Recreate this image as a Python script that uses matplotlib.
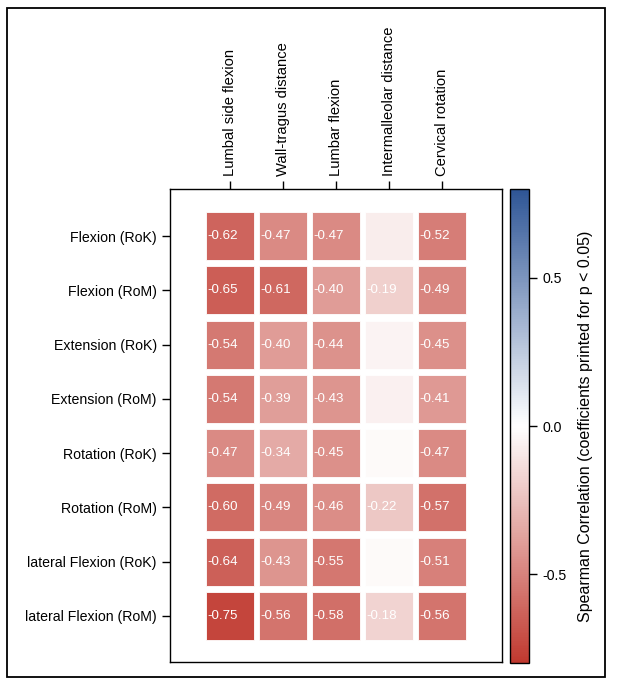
import numpy as np
import matplotlib
matplotlib.use('Agg')
import matplotlib.pyplot as plt
from matplotlib.colors import LinearSegmentedColormap, Normalize
from matplotlib.patches import Rectangle
from matplotlib.cm import ScalarMappable

plt.rcParams['font.family'] = ['Liberation Sans', 'DejaVu Sans']

# measures (columns) and tests (rows)
columns = ['Lumbal side flexion', 'Wall-tragus distance', 'Lumbar flexion',
           'Intermalleolar distance', 'Cervical rotation']
rows = ['Flexion (RoK)', 'Flexion (RoM)', 'Extension (RoK)', 'Extension (RoM)',
        'Rotation (RoK)', 'Rotation (RoM)', 'lateral Flexion (RoK)', 'lateral Flexion (RoM)']

# Spearman coefficients, row by row
values = [
    [-0.62, -0.47, -0.47, -0.07, -0.52],
    [-0.65, -0.61, -0.40, -0.19, -0.49],
    [-0.54, -0.40, -0.44, -0.05, -0.45],
    [-0.54, -0.39, -0.43, -0.06, -0.41],
    [-0.47, -0.34, -0.45, -0.02, -0.47],
    [-0.60, -0.49, -0.46, -0.22, -0.57],
    [-0.64, -0.43, -0.55, -0.02, -0.51],
    [-0.75, -0.56, -0.58, -0.18, -0.56],
]
# p < 0.05 -> coefficient printed
significant = [
    [1, 1, 1, 0, 1],
    [1, 1, 1, 1, 1],
    [1, 1, 1, 0, 1],
    [1, 1, 1, 0, 1],
    [1, 1, 1, 0, 1],
    [1, 1, 1, 1, 1],
    [1, 1, 1, 0, 1],
    [1, 1, 1, 1, 1],
]

cmap = LinearSegmentedColormap.from_list('rwb', ['#c0392f', '#ffffff', '#2e5596'])
norm = Normalize(vmin=-0.8, vmax=0.8)

fig = plt.figure(figsize=(6.17, 6.88), dpi=100)

# outer frame
fig.patches.append(Rectangle((0.0113, 0.016), 0.969, 0.972, transform=fig.transFigure,
                             fill=False, edgecolor='black', linewidth=1.3))

ax = fig.add_axes([0.2755, 0.0378, 0.538, 0.6875])
cw, ch = 0.906, 0.884
for i in range(len(rows)):
    for j in range(len(columns)):
        v = values[i][j]
        ax.add_patch(Rectangle((j - cw / 2, i - ch / 2), cw, ch,
                               facecolor=cmap(norm(v)), edgecolor='white',
                               linewidth=0.6))
        if significant[i][j]:
            ax.text(j - cw / 2 + 0.03, i, f'{v:.2f}', color='white',
                    fontsize=9.6, ha='left', va='center')

ax.set_xlim(-1.13, 5.13)
ax.set_ylim(7.85, -0.87)
ax.xaxis.tick_top()
ax.set_xticks(range(len(columns)))
ax.set_xticklabels(columns, rotation=90, fontsize=10.6)
ax.set_yticks(range(len(rows)))
ax.set_yticklabels(rows, fontsize=10.2)
ax.tick_params(length=6, width=1)
for s in ax.spines.values():
    s.set_linewidth(1)

cax = fig.add_axes([0.8266, 0.0363, 0.0308, 0.689])
sm = ScalarMappable(norm=norm, cmap=cmap)
cb = fig.colorbar(sm, cax=cax, ticks=[-0.5, 0.0, 0.5])
cb.ax.set_yticklabels(['-0.5', '0.0', '0.5'], fontsize=10.2)
cb.ax.tick_params(length=6, width=1)
cb.outline.set_linewidth(1)
cb.set_label('Spearman Correlation (coefficients printed for p < 0.05)', fontsize=11.5, labelpad=8)

fig.savefig('out.png', dpi=100)
